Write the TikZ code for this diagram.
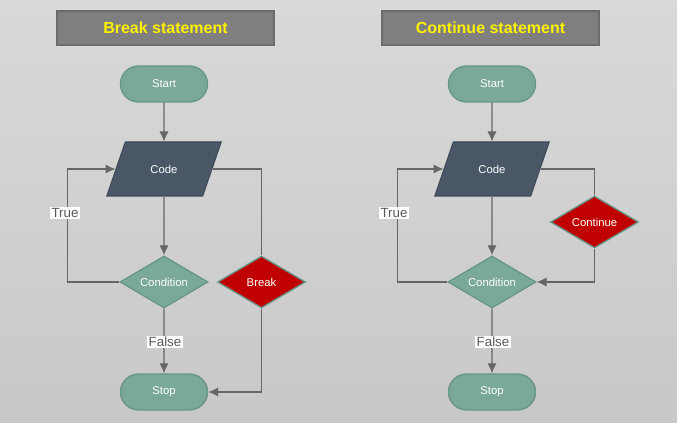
\documentclass[tikz,border=0pt]{standalone}
\usepackage{fontspec}
\setmainfont{Liberation Sans}
\usetikzlibrary{arrows.meta, shapes.geometric, shapes.misc}
\definecolor{bgtop}{HTML}{D9D9D9}
\definecolor{bgbottom}{HTML}{C8C8C8}
\definecolor{titlefill}{HTML}{7F7F7F}
\definecolor{titleedge}{HTML}{6B6B6B}
\definecolor{sage}{HTML}{7AA89B}
\definecolor{sageedge}{HTML}{67978A}
\definecolor{slate}{HTML}{4A5767}
\definecolor{slateedge}{HTML}{3E4A57}
\definecolor{stopred}{HTML}{C00000}
\definecolor{wire}{HTML}{666666}
\definecolor{labelgray}{HTML}{595959}

\begin{document}
\begin{tikzpicture}[
      x = 0.75pt, y = -0.75pt,
      >=Latex,
      font = \fontsize{8.5}{10}\selectfont,
      heading/.style={
        draw = titleedge,
        fill = titlefill,
        line width = 1pt,
        minimum width = 162.75pt,
        minimum height = 25.5pt,
        text = yellow,
        font = \fontsize{12}{14}\selectfont\bfseries,
      },
      terminal/.style={
        rounded rectangle,
        draw = sageedge,
        fill = sage,
        line width = 1pt,
        minimum width = 72pt,
        minimum height = 27pt,
        text = white,
      },
      codebox/.style={
        trapezium,
        trapezium left angle = 63.4,
        trapezium right angle = 116.6,
        trapezium stretches = true,
        draw = slateedge,
        fill = slate,
        line width = 0.8pt,
        minimum width = 86pt,
        minimum height = 40.5pt,
        text = white,
      },
      decision/.style={
        diamond,
        aspect = 1.69,
        draw = sageedge,
        fill = sage,
        line width = 1pt,
        inner sep = 0pt,
        minimum width = 66pt,
        minimum height = 39pt,
        text = white,
      },
      jump/.style={
        decision,
        fill = stopred,
      },
      flow/.style={
        wire,
        line width = 1pt,
      },
      flow arrow/.style={
        flow,
        -{Latex[length = 7.5pt, width = 7pt]},
      },
      branch/.style={
        fill = white,
        text = labelgray,
        inner sep = 1pt,
        font = \fontsize{10}{12}\selectfont,
      },
    ]
    % background
    \shade[top color = bgtop, bottom color = bgbottom] (0,0) rectangle (677,423);

    % break statement
    \node[heading] (brk-title) at (165.5,28) {Break statement};
    \node[terminal] (start1) at (164,84) {Start};
    \node[codebox] (code1) at (164,169) {Code};
    \node[decision] (cond1) at (164,282) {Condition};
    \node[jump] (brk) at (261.5,282) {Break};
    \node[terminal] (stop1) at (164,392) {Stop};
    \draw[flow arrow] (start1) -- (code1);
    \draw[flow arrow] (code1) -- (cond1);
    \draw[flow arrow] (cond1) -- (stop1);
    \draw[flow arrow] (cond1.west) -- ++(-52,0) |- (code1);
    \draw[flow] (code1) -| (brk.north);
    \draw[flow arrow] (brk.south) |- (stop1);
    \node[branch] (true1) at (65,213) {True};
    \node[branch] (false1) at (165,342) {False};

    % continue statement
    \node[heading] (cont-title) at (490.5,28) {Continue statement};
    \node[terminal] (start2) at (492,84) {Start};
    \node[codebox] (code2) at (492,169) {Code};
    \node[decision] (cond2) at (492,282) {Condition};
    \node[jump] (cont) at (594.5,222) {Continue};
    \node[terminal] (stop2) at (492,392) {Stop};
    \draw[flow arrow] (start2) -- (code2);
    \draw[flow arrow] (code2) -- (cond2);
    \draw[flow arrow] (cond2) -- (stop2);
    \draw[flow arrow] (cond2.west) -- ++(-50,0) |- (code2);
    \draw[flow] (code2) -| (cont.north);
    \draw[flow arrow] (cont.south) |- (cond2);
    \node[branch] (true2) at (394,213) {True};
    \node[branch] (false2) at (493,342) {False};
  \end{tikzpicture}
\end{document}
